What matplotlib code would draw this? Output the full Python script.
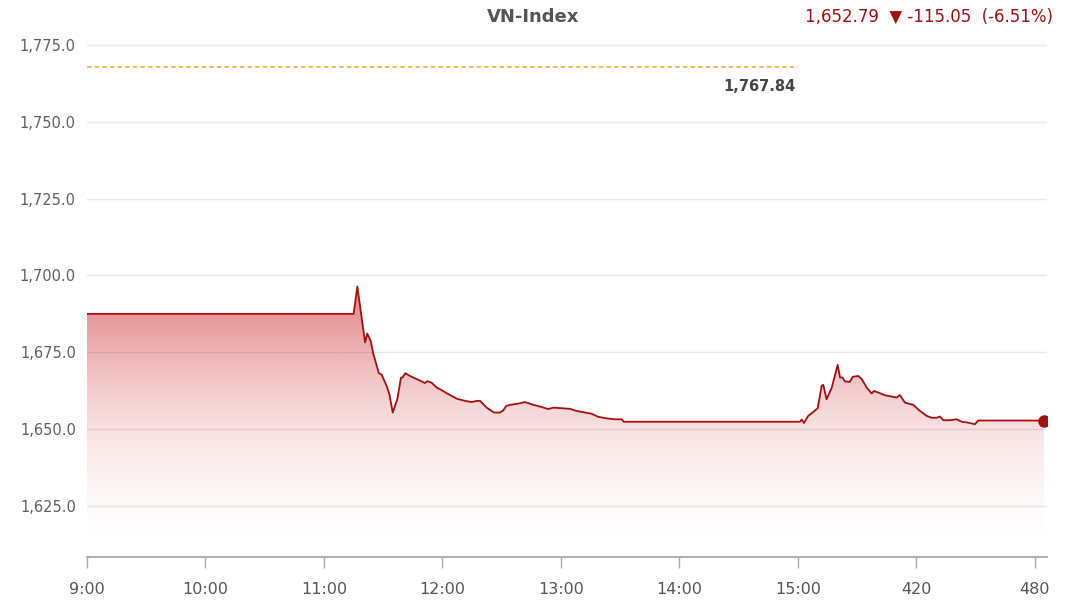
import matplotlib
matplotlib.use("Agg")
import matplotlib.pyplot as plt
import numpy as np

# minutes since 9:00 and index values
minutes = [0, 135, 136.9, 140.8, 141.9, 143.6, 145.0, 147.8, 149.2, 151.7, 153.1, 154.8,
           157.1, 159.0, 159.8, 161.2, 163.5, 166.9, 171.1, 172.3, 174.5, 177.1, 178.7,
           182.1, 187.2, 191.4, 194.8, 197.3, 199.0, 202.4, 206.1, 209.1, 210.8, 212.2,
           214.2, 218.4, 221.8, 226.0, 230.2, 233.6, 236.1, 240.4, 244.6, 247.9, 252.2,
           255.5, 258.9, 263.1, 267.3, 270.7, 271.9, 361.0, 361.9, 363.0, 365.2, 367.4,
           370.0, 372.0, 372.8, 374.5, 377.1, 380.1, 381.3, 382.6, 383.8, 386.3, 387.7,
           390.5, 392.3, 394.8, 397.3, 398.5, 400.7, 404.1, 410.0, 411.6, 414.2, 418.4,
           421.8, 425.2, 427.7, 430.2, 431.9, 433.6, 437.0, 440.4, 442.9, 446.2, 449.6,
           451.3, 484.6]
values = [1687.5, 1687.5, 1696.4, 1678.2, 1681.1, 1678.8, 1674.4, 1668.2, 1667.7, 1664.1,
          1661.4, 1655.4, 1659.7, 1666.8, 1666.8, 1668.2, 1667.3, 1666.3, 1665.0, 1665.6,
          1665.1, 1663.5, 1663.0, 1661.7, 1659.9, 1659.2, 1658.8, 1659.2, 1659.2, 1657.0,
          1655.4, 1655.4, 1656.1, 1657.5, 1657.9, 1658.3, 1658.8, 1657.9, 1657.2, 1656.5,
          1657.0, 1656.8, 1656.6, 1655.9, 1655.4, 1655.0, 1654.0, 1653.5, 1653.2, 1653.2,
          1652.4, 1652.4, 1653.1, 1652.0, 1654.3, 1655.4, 1656.8, 1664.1, 1664.4, 1659.7,
          1663.5, 1670.9, 1666.8, 1666.8, 1665.5, 1665.4, 1667.0, 1667.3, 1666.3, 1663.5,
          1661.6, 1662.4, 1661.9, 1661.0, 1660.3, 1661.1, 1658.6, 1657.9, 1655.9, 1654.3,
          1653.7, 1653.7, 1654.1, 1652.9, 1652.9, 1653.2, 1652.4, 1652.1, 1651.6, 1652.8,
          1652.79]

ref_close = 1767.84
ref_end = 360
last_value = 1652.79
change = -115.05
change_pct = -6.51

tick_pos = [0, 60, 120, 180, 240, 300, 360, 420, 480]
tick_labels = ['9:00', '10:00', '11:00', '12:00', '13:00', '14:00', '15:00', '420', '480']
y_ticks = [1625, 1650, 1675, 1700, 1725, 1750, 1775]

red = '#a50f0f'
ymin, ymax = 1608.4, 1776.6
xmax = 486.1

fig = plt.figure(figsize=(10.86, 6.05), dpi=100)
ax = fig.add_axes([87/1086, 1 - 557/605, 960/1086, (557-40)/605])

# gridlines
for v in y_ticks:
    ax.axhline(v, color='#e6e6e6', lw=1, zorder=0)

# gradient fill under the line
x = np.array(minutes)
y = np.array(values)
poly = ax.fill_between(x, y, ymin, color='none', lw=0)
top = max(values)
n = 300
t = np.linspace(1, 0, n)
grad = np.zeros((n, 1, 4))
grad[:, 0, 0] = 200/255
grad[:, 0, 1] = 25/255
grad[:, 0, 2] = 30/255
grad[:, 0, 3] = 0.56 * t**1.9
im = ax.imshow(grad, extent=[0, xmax, ymin, top], aspect='auto', origin='upper', zorder=1)
path = poly.get_paths()[0]
im.set_clip_path(path, transform=ax.transData)

ax.plot(x, y, color=red, lw=1.3, zorder=3)
ax.plot([minutes[-1]], [values[-1]], 'o', color=red, ms=8, zorder=4)

# previous close reference
ax.plot([0, ref_end], [ref_close, ref_close], color='#f0a830', lw=1.1, ls=(0, (3, 2)), zorder=2)
ax.text(ref_end - 1, ref_close - 4, f'{ref_close:,.2f}', ha='right', va='top',
        fontsize=10.5, fontweight='bold', color='#444444')

ax.set_xlim(0, xmax)
ax.set_ylim(ymin, ymax)
ax.set_yticks(y_ticks)
ax.set_yticklabels([f'{v:,.1f}' for v in y_ticks], fontsize=10.5, color='#606060')
ax.set_xticks(tick_pos)
ax.set_xticklabels(tick_labels, fontsize=11.5, color='#555555')
ax.tick_params(axis='y', length=0, pad=8)
ax.tick_params(axis='x', length=8, color='#aaaaaa', width=1, pad=10)
for s in ['top', 'right', 'left']:
    ax.spines[s].set_visible(False)
ax.spines['bottom'].set_color('#aaaaaa')
ax.spines['bottom'].set_linewidth(1.3)

fig.text(533/1086, 1 - 17/605, 'VN-Index', ha='center', va='center', fontsize=13,
         fontweight='bold', color='#555555')
fig.text(1053/1086, 1 - 17/605,
         f'{last_value:,.2f}  \u25bc {change:,.2f}  ({change_pct:.2f}%)',
         ha='right', va='center', fontsize=12, color=red)

fig.savefig('out.png', dpi=100)
